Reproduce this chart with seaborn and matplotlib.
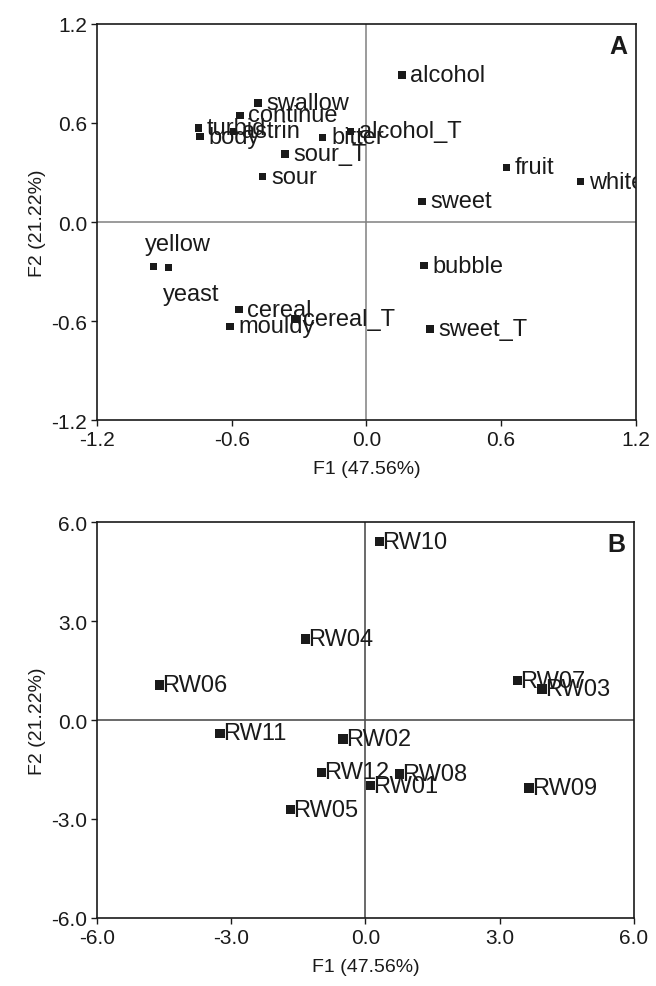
import numpy as np
import pandas as pd
import matplotlib
matplotlib.use('Agg')
import matplotlib.pyplot as plt
import seaborn as sns

# Panel A: attribute loadings
attr_names = ['alcohol', 'swallow', 'continue', 'turbid', 'body', 'astrin', 'bitter',
              'alcohol_T', 'sour_T', 'sour', 'sweet', 'fruit', 'white', 'bubble',
              'yellow', 'yeast', 'cereal', 'mouldy', 'cereal_T', 'sweet_T']
attr_f1 = [0.158, -0.483, -0.563, -0.749, -0.741, -0.593, -0.195,
           -0.070, -0.363, -0.462, 0.248, 0.624, 0.955, 0.257,
           -0.949, -0.882, -0.568, -0.608, -0.318, 0.283]
attr_f2 = [0.889, 0.720, 0.645, 0.568, 0.516, 0.548, 0.512,
           0.548, 0.411, 0.274, 0.125, 0.331, 0.244, -0.264,
           -0.268, -0.274, -0.530, -0.631, -0.586, -0.647]

# Panel B: sample scores
wine_names = ['RW10', 'RW04', 'RW06', 'RW11', 'RW02', 'RW12', 'RW08', 'RW01',
              'RW05', 'RW07', 'RW03', 'RW09']
wine_f1 = [0.32, -1.34, -4.61, -3.25, -0.50, -0.98, 0.76, 0.12, -1.67, 3.40, 3.95, 3.66]
wine_f2 = [5.41, 2.46, 1.06, -0.40, -0.58, -1.59, -1.64, -1.99, -2.72, 1.19, 0.94, -2.06]

attrs = pd.DataFrame({'name': attr_names, 'F1': attr_f1, 'F2': attr_f2})
wines = pd.DataFrame({'name': wine_names, 'F1': wine_f1, 'F2': wine_f2})

sns.set_style('ticks')
plt.rcParams['font.family'] = ['Liberation Sans', 'DejaVu Sans']
plt.rcParams['axes.linewidth'] = 1.2
plt.rcParams['xtick.major.width'] = 1.0
plt.rcParams['ytick.major.width'] = 1.0
plt.rcParams['xtick.major.size'] = 4
plt.rcParams['ytick.major.size'] = 4

fig = plt.figure(figsize=(6.56, 9.87), dpi=100)
ax1 = fig.add_axes([0.148, 0.573, 0.821, 0.402])
ax2 = fig.add_axes([0.148, 0.069, 0.818, 0.401])

ink = '#1a1a1a'

# --- panel A
ax1.axhline(0, color='#808080', lw=1.1, zorder=0)
ax1.axvline(0, color='#808080', lw=1.1, zorder=0)
sns.scatterplot(data=attrs, x='F1', y='F2', marker='s', s=28, color=ink,
                edgecolor='none', ax=ax1, zorder=3)
special = {'yellow': (-6, 8, 'left', 'bottom'), 'yeast': (-4, -11, 'left', 'top')}
for _, r in attrs.iterrows():
    dx, dy, ha, va = special.get(r['name'], (6, 0, 'left', 'center'))
    ax1.annotate(r['name'], (r['F1'], r['F2']), xytext=(dx, dy), textcoords='offset points',
                 ha=ha, va=va, fontsize=17, color=ink, clip_on=True)
ax1.set_xlim(-1.2, 1.2)
ax1.set_ylim(-1.2, 1.2)
ax1.set_xticks(np.arange(-1.2, 1.21, 0.6))
ax1.set_yticks(np.arange(-1.2, 1.21, 0.6))
ax1.set_xticklabels(['%.1f' % v for v in np.arange(-1.2, 1.21, 0.6)])
ax1.set_yticklabels(['%.1f' % v for v in np.arange(-1.2, 1.21, 0.6)])
ax1.set_xlabel('F1 (47.56%)', fontsize=14, color=ink, labelpad=8)
ax1.set_ylabel('F2 (21.22%)', fontsize=14, color=ink, labelpad=4)
ax1.text(0.985, 0.975, 'A', transform=ax1.transAxes, ha='right', va='top',
         fontsize=18, fontweight='bold', color=ink)

# --- panel B
ax2.axhline(0, color='#505050', lw=1.2, zorder=0)
ax2.axvline(0, color='#505050', lw=1.2, zorder=0)
sns.scatterplot(data=wines, x='F1', y='F2', marker='s', s=45, color=ink,
                edgecolor='none', ax=ax2, zorder=3)
for _, r in wines.iterrows():
    ax2.annotate(r['name'], (r['F1'], r['F2']), xytext=(2, 0), textcoords='offset points',
                 ha='left', va='center', fontsize=17, color=ink, clip_on=True)
ax2.set_xlim(-6, 6)
ax2.set_ylim(-6, 6)
ax2.set_xticks(np.arange(-6, 6.1, 3))
ax2.set_yticks(np.arange(-6, 6.1, 3))
ax2.set_xticklabels(['%.1f' % v for v in np.arange(-6, 6.1, 3)])
ax2.set_yticklabels(['%.1f' % v for v in np.arange(-6, 6.1, 3)])
ax2.set_xlabel('F1 (47.56%)', fontsize=14, color=ink, labelpad=8)
ax2.set_ylabel('F2 (21.22%)', fontsize=14, color=ink, labelpad=4)
ax2.text(0.985, 0.975, 'B', transform=ax2.transAxes, ha='right', va='top',
         fontsize=18, fontweight='bold', color=ink)

for ax in (ax1, ax2):
    ax.tick_params(labelsize=15, colors=ink, pad=3)
    for sp in ax.spines.values():
        sp.set_visible(True)
        sp.set_color(ink)

fig.savefig('out.png', dpi=100)
